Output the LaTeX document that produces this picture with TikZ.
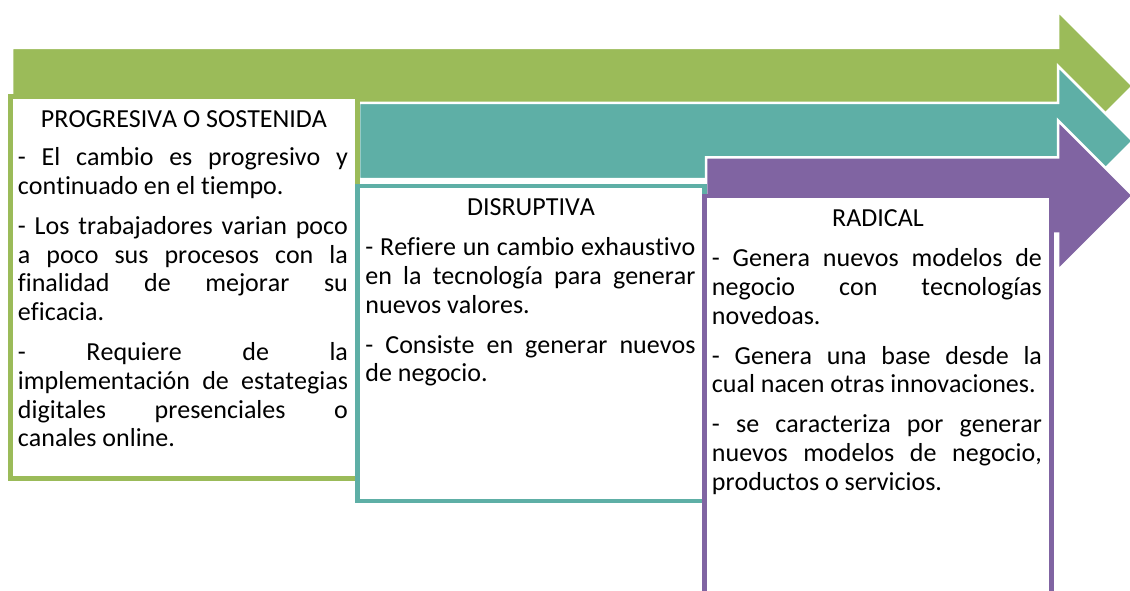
\documentclass[tikz,border=0pt]{standalone}
\usepackage{fontspec}
\setmainfont{Carlito}[Kerning=Off,Ligatures=NoCommon]
\usepackage{tikz}
\usetikzlibrary{calc}
\usetikzlibrary{positioning}
\definecolor{progreen}{HTML}{9BBB59}
\definecolor{disteal}{HTML}{5EAFA6}
\definecolor{radpurple}{HTML}{8064A2}
\tikzset{stage arrow/.style={draw=white,
                             line width=2.5pt,
                             line join=miter}}
\tikzset{stage box/.style={draw,
                           fill=white,
                           line width=4.5pt,
                           inner sep=0pt,
                           minimum width=347pt}}
\tikzset{stage title/.style={anchor=base,
                             inner sep=0pt,
                             font=\fontsize{26}{28.8}\selectfont}}
\tikzset{stage text/.style={anchor=base west,
                            inner sep=0pt,
                            text width=330pt,
                            align=justify,
                            font=\fontsize{26}{28.8}\selectfont\setlength{\parskip}{11pt}}}
\hyphenpenalty=10000
\exhyphenpenalty=10000

\begin{document}
\begin{tikzpicture}
      [
      x=1pt,y=-1pt,
      ]
      \useasboundingbox (0,0) rectangle (1130,591);
      \clip (0,0) rectangle (1130,591);

      % arrows
      \foreach \col/\x/\y in
      {
      progreen/12/86,
      disteal/359/141,
      radpurple/706/195.5
      }
      {
      \filldraw [stage arrow,fill=\col] (\x,\y-38) -- (1058,\y-38) -- (1058,\y-75)
      -- (1133,\y) -- (1058,\y+75) -- (1058,\y+38) -- (\x,\y+38) -- cycle;
      }

      % boxes
      \node [stage box,draw=progreen,minimum height=382pt] (prog box) at (184,287.5) {};
      \node [stage box,draw=disteal,minimum height=315pt] (dis box) at (531,343.5) {};
      \node [stage box,draw=radpurple,minimum height=444pt] (rad box) at (878,418) {};

      % titles
      \node [stage title] (prog title) at ($(prog box.north)+(0,33.5)$) {PROGRESIVA O SOSTENIDA};
      \node [stage title] (dis title) at ($(dis box.north)+(0,32)$) {DISRUPTIVA};
      \node [stage title] (rad title) at ($(rad box.north)+(0,33)$) {RADICAL};

      % texts
      \node [stage text] (prog text) at ($(prog box.north west)+(9.5,71.5)$)
      {- El cambio es progresivo y\linebreak continuado en el tiempo.\par
      - Los trabajadores varian poco\linebreak a poco sus procesos con la\linebreak
      finalidad de mejorar su\linebreak eficacia.\par
      - Requiere de la\linebreak implementación de estategias\linebreak
      digitales presenciales o\linebreak canales online.};

      \node [stage text] (dis text) at ($(dis box.north west)+(10,72)$)
      {- Refiere un cambio exhaustivo\linebreak en la tecnología para generar\linebreak
      nuevos valores.\par
      - Consiste en generar nuevos\linebreak de negocio.};

      \node [stage text] (rad text) at ($(rad box.north west)+(9.5,73)$)
      {- Genera nuevos modelos de\linebreak negocio con tecnologías\linebreak novedoas.\par
      - Genera una base desde la\linebreak cual nacen otras innovaciones.\par
      - se caracteriza por generar\linebreak nuevos modelos de negocio,\linebreak
      productos o servicios.};

\end{tikzpicture}
\end{document}
